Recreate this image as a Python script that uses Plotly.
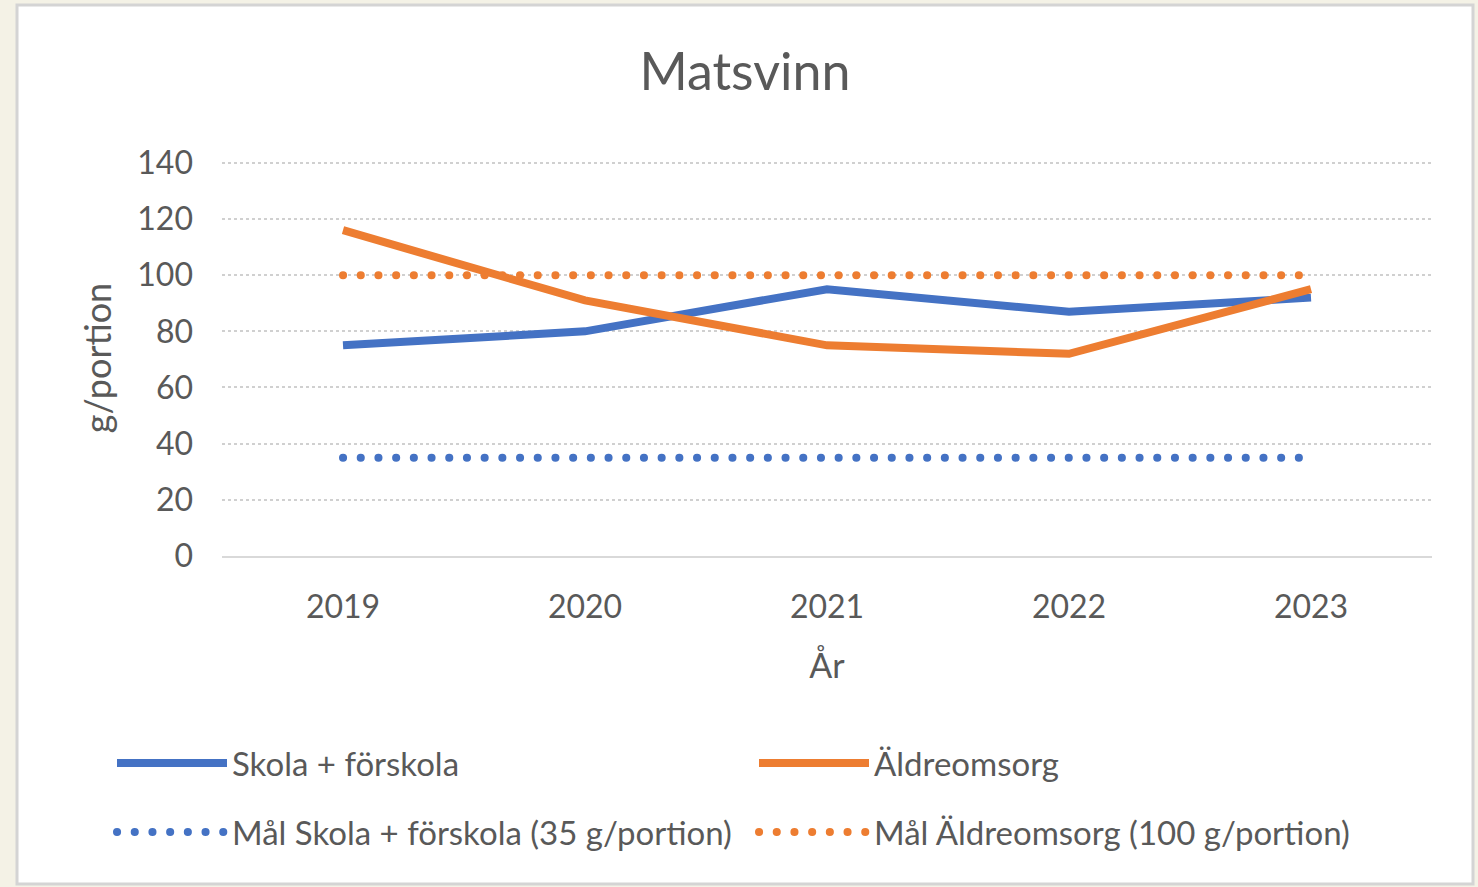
import plotly.graph_objects as go

years = ["2019", "2020", "2021", "2022", "2023"]
skola = [75, 80, 95, 87, 92]
aldre = [116, 91, 75, 72, 95]
mal_skola = [35, 35, 35, 35, 35]
mal_aldre = [100, 100, 100, 100, 100]

BLUE = "#4472c4"
ORANGE = "#ed7d31"
TXT = "#595959"
FONT = "Lato, Open Sans, sans-serif"

W, H = 1478, 887
L, R, T, B = 222, 46, 160, 331
pw, ph = W - L - R, H - T - B

def px_x(x):
    return (x - L) / pw

def px_y(y):
    return (H - B - y) / ph

fig = go.Figure()
fig.add_trace(go.Scatter(x=years, y=skola, mode="lines", name="Skola + förskola",
                         line=dict(color=BLUE, width=8), legend="legend"))
fig.add_trace(go.Scatter(x=years, y=aldre, mode="lines", name="Äldreomsorg",
                         line=dict(color=ORANGE, width=8), legend="legend2"))
fig.add_trace(go.Scatter(x=years, y=mal_skola, mode="lines", name="Mål Skola + förskola (35 g/portion)",
                         line=dict(color=BLUE, width=8, dash="7px,10.6px"), legend="legend3"))
fig.add_trace(go.Scatter(x=years, y=mal_aldre, mode="lines", name="Mål Äldreomsorg (100 g/portion)",
                         line=dict(color=ORANGE, width=8, dash="7px,10.6px"), legend="legend4"))

fig.add_shape(type="rect", xref="paper", yref="paper",
              x0=px_x(17), x1=px_x(1473), y0=px_y(884), y1=px_y(5),
              fillcolor="white", line=dict(color="#d4d4d4", width=3), layer="below")

legend_common = dict(orientation="h", xanchor="left", yanchor="middle",
                     font=dict(size=33, color=TXT, family=FONT),
                     bgcolor="rgba(0,0,0,0)", itemwidth=110, itemclick=False)

fig.update_layout(
    width=W, height=H,
    margin=dict(l=L, r=R, t=T, b=B, autoexpand=False),
    paper_bgcolor="#f4f2e6",
    plot_bgcolor="white",
    font=dict(family=FONT, color=TXT),
    title=dict(text="Matsvinn", xref="container", x=745 / W, xanchor="center",
               yref="container", y=1 - 72 / H, yanchor="middle",
               font=dict(size=52, color=TXT, family=FONT)),
    xaxis=dict(type="category", range=[-0.5, 4.5], showgrid=False, showline=True,
               linecolor="#d9d9d9", linewidth=2, ticks="", tickfont=dict(size=32, color=TXT),
               ticklabelstandoff=22,
               title=dict(text="År", font=dict(size=34, color=TXT), standoff=30)),
    yaxis=dict(range=[0, 141], tickvals=[0, 20, 40, 60, 80, 100, 120, 140],
               showgrid=True, gridcolor="#d0d0d0", griddash="dot",
               gridwidth=1.5, zeroline=False, showline=False, ticks="",
               tickfont=dict(size=32, color=TXT), ticklabelstandoff=28,
               title=dict(text="g/portion", font=dict(size=36, color=TXT), standoff=14)),
    legend=dict(x=px_x(112), y=px_y(763), **legend_common),
    legend2=dict(x=px_x(754), y=px_y(763), **legend_common),
    legend3=dict(x=px_x(112), y=px_y(832), **legend_common),
    legend4=dict(x=px_x(754), y=px_y(832), **legend_common),
    showlegend=True,
)

post = """
document.body.style.margin='0';
function roundDots(){
  document.querySelectorAll('path').forEach(function(p){
    var d = p.style.strokeDasharray || '';
    if (d.indexOf('7px') === 0) {
      p.style.strokeLinecap = 'round';
      p.style.strokeDasharray = '0.1px, 17.6px';
    }
  });
}
roundDots();
setTimeout(roundDots, 50);
"""

fig.write_html("out.html", post_script=post, config={"displayModeBar": False})
